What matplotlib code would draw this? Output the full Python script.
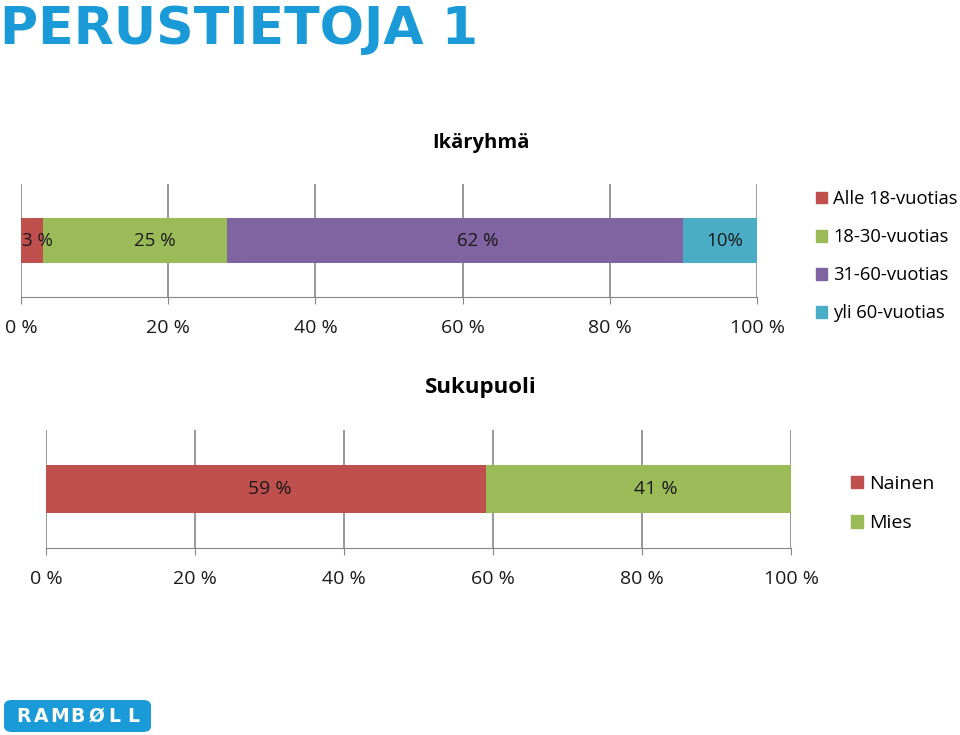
import matplotlib.pyplot as plt
from matplotlib.patches import FancyBboxPatch, Patch

plt.rcParams['font.family'] = ['Open Sans', 'DejaVu Sans']

# data
age_groups = ['Alle 18-vuotias', '18-30-vuotias', '31-60-vuotias', 'yli 60-vuotias']
age_values = [3, 25, 62, 10]
age_labels = ['3 %', '25 %', '62 %', '10%']
age_colors = ['#C0504D', '#9BBB59', '#8064A2', '#4BACC6']

genders = ['Nainen', 'Mies']
gender_values = [59, 41]
gender_labels = ['59 %', '41 %']
gender_colors = ['#C0504D', '#9BBB59']

ticks = [0, 20, 40, 60, 80, 100]
tick_labels = ['0 %', '20 %', '40 %', '60 %', '80 %', '100 %']

grid_col = '#868686'


def stacked_bar(ax, values, labels, colors, fs, nudges):
    left = 0
    for v, lab, c, dx in zip(values, labels, colors, nudges):
        ax.barh(0, v, left=left, height=0.4, color=c, zorder=2)
        # labels in the original sit a bit right of the segment centre
        ax.annotate(lab, (left + v / 2, 0), xytext=(dx, 0), textcoords='offset pixels',
                    ha='center', va='center', fontsize=fs, color='#1a1a1a', zorder=3)
        left += v
    ax.set_xlim(0, 100)
    ax.set_ylim(-0.5, 0.5)
    ax.set_xticks(ticks)
    ax.set_xticklabels(tick_labels, fontsize=14)
    ax.set_yticks([])
    for s in ['top', 'right', 'left']:
        ax.spines[s].set_visible(False)
    ax.spines['bottom'].set_color(grid_col)
    ax.tick_params(axis='x', colors=grid_col, length=5, pad=10.5, labelcolor='#1a1a1a')
    ax.xaxis.grid(True, color=grid_col, linewidth=1.2, zorder=0)
    ax.set_axisbelow(True)


fig = plt.figure(figsize=(9.6, 7.35), dpi=100)

# title
fig.text(0.0, 1 - 30 / 735, 'PERUSTIETOJA 1', fontsize=37.5, fontweight='bold',
         color='#1b9ad8', family='DejaVu Sans', ha='left', va='center')

# age chart
ax1 = fig.add_axes([21 / 960, 1 - 297 / 735, 736 / 960, 113 / 735])
stacked_bar(ax1, age_values, age_labels, age_colors, 13.5, [5, 20, 23, 5])
fig.text(481 / 960, 1 - 143 / 735, 'Ikäryhmä', fontsize=14.5, fontweight='bold',
         ha='center', va='center')
h1 = [Patch(color=c) for c in age_colors]
fig.legend(h1, age_groups, loc='upper left', bbox_to_anchor=(816 / 960, 1 - 190 / 735),
           frameon=False, fontsize=13.2, handlelength=0.6, handleheight=0.6,
           handletextpad=0.35, labelspacing=1.1, borderaxespad=0, borderpad=0)

# gender chart
ax2 = fig.add_axes([46 / 960, 1 - 548 / 735, 745 / 960, 118 / 735])
stacked_bar(ax2, gender_values, gender_labels, gender_colors, 14, [4, 18])
fig.text(481 / 960, 1 - 387 / 735, 'Sukupuoli', fontsize=16, fontweight='bold',
         ha='center', va='center')
h2 = [Patch(color=c) for c in gender_colors]
fig.legend(h2, genders, loc='upper left', bbox_to_anchor=(851 / 960, 1 - 475 / 735),
           frameon=False, fontsize=14, handlelength=0.6, handleheight=0.6,
           handletextpad=0.35, labelspacing=1.1, borderaxespad=0, borderpad=0)

# logo
logo = FancyBboxPatch((4 / 960, 1 - 732 / 735), 147 / 960, 32 / 735,
                      boxstyle='round,pad=0,rounding_size=0.008',
                      transform=fig.transFigure, facecolor='#1b9ad8', edgecolor='none')
fig.patches.append(logo)
for i, ch in enumerate('RAMBØLL'):
    fig.text((23 + i * 18.3) / 960, 1 - 716 / 735, ch, fontsize=13.5, fontweight='bold',
             color='white', family='DejaVu Sans', ha='center', va='center')

fig.savefig('out.png', dpi=100)
